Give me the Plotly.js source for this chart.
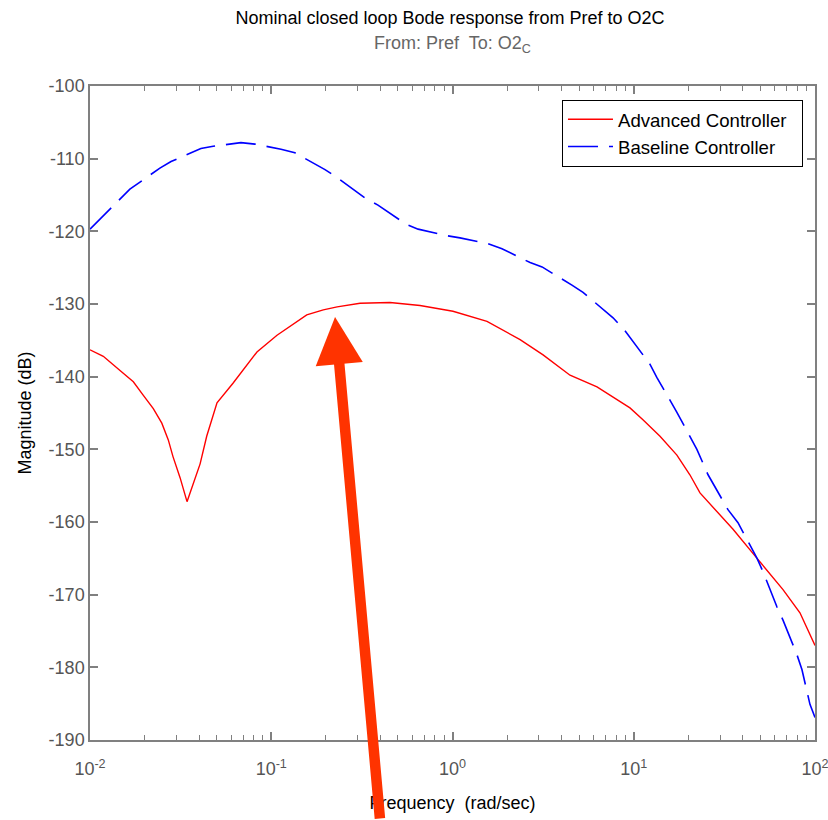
<!DOCTYPE html>
<html>
<head>
<meta charset="utf-8">
<script src="https://cdn.plot.ly/plotly-3.0.1.min.js"></script>
<style>html,body{margin:0;padding:0;background:#fff;}#chart{width:828px;height:820px;}</style>
</head>
<body>
<div id="chart"></div>
<script>
// Frequency (rad/sec) and magnitude (dB)
const advFreq = [0.01, 0.01184, 0.0152, 0.01734, 0.0196, 0.02235, 0.0249, 0.02704, 0.0287, 0.0314, 0.0343, 0.03715, 0.0405, 0.04404, 0.0502, 0.0615, 0.0732, 0.0834, 0.1076, 0.157, 0.1937, 0.231, 0.309, 0.452, 0.662, 1.006, 1.55, 2.36, 3.16, 4.45, 6.27, 9.53, 11.2, 13.96, 17.3, 20.4, 23.2, 35.3, 47.9, 66.6, 82.6, 100];
const advMag  = [-136.3, -137.2, -139.5, -140.7, -142.5, -144.4, -146.4, -148.7, -151.0, -153.9, -157.2, -154.7, -152.0, -148.2, -143.6, -140.9, -138.4, -136.6, -134.3, -131.5, -130.8, -130.4, -129.9, -129.8, -130.2, -131.0, -132.4, -134.9, -137.0, -139.8, -141.4, -144.3, -145.9, -148.2, -150.8, -153.5, -156.0, -161.0, -165.0, -169.3, -172.5, -177.0];

const baseFreq = [0.01, 0.01445, 0.0166, 0.0243, 0.028, 0.0409, 0.0478, 0.068, 0.0813, 0.1132, 0.135, 0.198, 0.2275, 0.329, 0.388, 0.553, 0.646, 0.933, 1.10, 1.57, 1.875, 2.68, 3.12, 4.56, 5.25, 7.69, 8.83, 12.3, 13.4, 17.3, 22.3, 25.7, 33.1, 37.6, 47.9, 51.6, 61.7, 66.6, 79.6, 84.7, 93.8, 100];
const baseMag  = [-119.7, -115.6, -114.2, -111.3, -110.4, -108.6, -108.3, -107.8, -108.0, -108.7, -109.2, -111.5, -112.5, -115.4, -116.4, -119.0, -119.7, -120.6, -120.9, -121.7, -122.4, -124.3, -124.9, -127.4, -128.4, -131.9, -133.5, -138.3, -140.1, -144.9, -150.0, -153.5, -158.3, -160.1, -165.0, -166.8, -171.7, -173.5, -178.3, -180.3, -185.1, -186.9];

const xTickVals = [0.01, 0.1, 1, 10, 99.99];
const xTickText = ['10<sup>-2</sup>', '10<sup>-1</sup>', '10<sup>0</sup>', '10<sup>1</sup>', '10<sup>2</sup>'];
const xMinorVals = [0.02, 0.03, 0.04, 0.05, 0.06, 0.07, 0.08, 0.09,
                    0.2, 0.3, 0.4, 0.5, 0.6, 0.7, 0.8, 0.9,
                    2, 3, 4, 5, 6, 7, 8, 9,
                    20, 30, 40, 50, 60, 70, 80, 90];
const yTickVals = [-190, -180, -170, -160, -150, -140, -130, -120, -110, -100];
const yTickText = ['-190', '-180', '-170', '-160', '-150', '-140', '-130', '-120', '-110', '-100'];

const FONT = 'Liberation Sans, Arial, sans-serif';
const AX = '#808080';

const traces = [
  {x: advFreq, y: advMag, type: 'scatter', mode: 'lines', name: 'Advanced Controller\u00a0\u00a0',
   line: {color: '#ff0000', width: 1.4}},
  {x: baseFreq, y: baseMag, type: 'scatter', mode: 'lines', name: 'Baseline Controller',
   line: {color: '#0000ff', width: 1.6, dash: '30px,11px'}}
];

const layout = {
  width: 828, height: 820,
  margin: {l: 90, r: 13, t: 86, b: 80},
  paper_bgcolor: '#ffffff', plot_bgcolor: '#ffffff',
  font: {family: FONT, size: 18, color: '#000'},
  title: {text: 'Nominal closed loop Bode response from Pref to O2C',
          font: {family: FONT, size: 18, color: '#000'},
          x: 0.5435, xanchor: 'center', y: 0.978, yanchor: 'middle'},
  showlegend: true,
  legend: {x: 0.651, y: 0.979, xanchor: 'left', yanchor: 'top',
           bgcolor: '#ffffff', bordercolor: '#000000', borderwidth: 1, itemwidth: 45,
           font: {family: FONT, size: 18.6, color: '#000'}},
  xaxis: {type: 'log', range: [-2, 2], tickmode: 'array', tickvals: xTickVals, ticktext: xTickText,
          showgrid: false, zeroline: false, showline: true, linecolor: AX, linewidth: 1.5,
          mirror: 'ticks', ticks: 'inside', ticklen: 8, tickcolor: AX, tickwidth: 1.5,
          ticklabelstandoff: 12, ticklabeloverflow: 'allow',
          tickfont: {family: FONT, size: 18, color: '#555'},
          minor: {tickmode: 'array', tickvals: xMinorVals, ticks: 'inside', ticklen: 5,
                  tickcolor: AX, tickwidth: 1.2, showgrid: false},
          title: {text: 'Frequency  (rad/sec)', font: {family: FONT, size: 18, color: '#000'}, standoff: 18}},
  yaxis: {range: [-190, -100], tickmode: 'array', tickvals: yTickVals, ticktext: yTickText,
          showgrid: false, zeroline: false, showline: true, linecolor: AX, linewidth: 1.5,
          mirror: 'ticks', ticks: 'inside', ticklen: 8, tickcolor: AX, tickwidth: 1.5,
          tickfont: {family: FONT, size: 18, color: '#555'},
          title: {text: 'Magnitude (dB)', font: {family: FONT, size: 18, color: '#000'}, standoff: 12}},
  annotations: [
    {text: 'From: Pref  To: O2<sub>C</sub>', xref: 'paper', yref: 'paper', x: 0.5, y: 1.0627,
     xanchor: 'center', yanchor: 'middle', showarrow: false,
     font: {family: FONT, size: 18, color: '#666'}},
    {text: '', xref: 'x', yref: 'y', x: -0.648, y: -131.8, ax: 45, ay: 503,
     showarrow: true, arrowhead: 2, arrowsize: 0.9, arrowwidth: 10.5, arrowcolor: '#ff3300'}
  ]
};

Plotly.newPlot('chart', traces, layout, {displayModeBar: false, responsive: false});
</script>
</body>
</html>
